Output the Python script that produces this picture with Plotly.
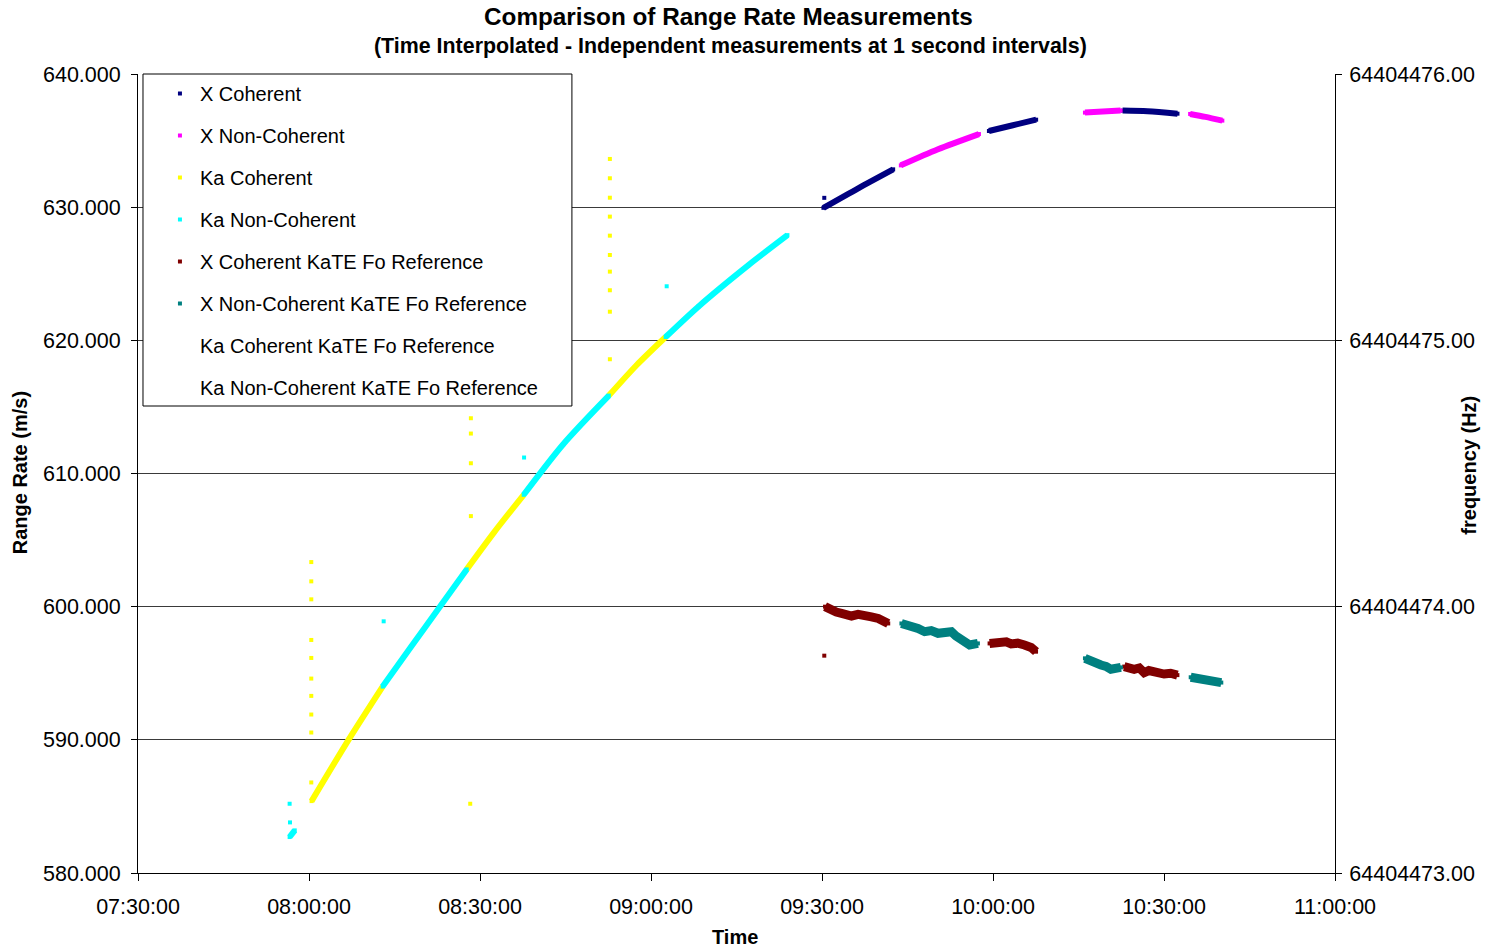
import plotly.graph_objects as go

DAY = "2000-01-01"

# ---------------- data ----------------
# X Coherent (left axis, m/s); None separates contiguous segments
XC_T = ["09:30:15", "09:36:21", "09:42:29", None,
        "09:59:17", "10:03:29", "10:07:34", None,
        "10:22:44", "10:27:07", "10:32:22"]
XC_V = [629.95, 631.42, 632.84, None,
        635.72, 636.15, 636.57, None,
        637.25, 637.20, 637.02]
XC_OUT_T = ["09:30:24"]
XC_OUT_V = [630.70]

# X Non-Coherent
XN_T = ["09:43:50", "09:50:21", "09:57:32", None,
        "10:16:08", "10:22:23", None,
        "10:34:35", "10:37:16", "10:40:14"]
XN_V = [633.14, 634.35, 635.49, None,
        637.10, 637.25, None,
        637.00, 636.78, 636.50]
XN_OUT_T = []
XN_OUT_V = []

# Ka Coherent
KC_T = ["08:00:27", "08:06:56", "08:12:55", None,
        "08:27:40", "08:32:30", "08:37:40", None,
        "08:52:36", "08:57:30", "09:02:34"]
KC_V = [585.40, 590.00, 594.00, None,
        602.80, 605.60, 608.40, None,
        615.85, 618.15, 620.25]
KC_OUT_T = ["08:00:24"] * 10 + ["08:28:24"] * 4 + ["08:28:17"] + ["08:52:47"] * 10
KC_OUT_V = [603.35, 601.90, 600.55, 597.50, 596.15, 594.60, 593.30, 591.90, 590.55, 586.80,
            614.15, 613.00, 610.77, 606.80, 585.20,
            633.62, 632.17, 630.71, 629.29, 627.86, 626.41, 625.16, 623.76, 622.15, 618.58]

# Ka Non-Coherent
KN_T = ["07:56:36", "07:57:30", None,
        "08:12:55", "08:18:00", "08:23:09", "08:27:40", None,
        "08:37:40", "08:44:36", "08:52:36", None,
        "09:02:34", "09:08:21", "09:17:06", "09:23:56"]
KN_V = [582.70, 583.20, None,
        594.00, 597.05, 600.10, 602.80, None,
        608.40, 612.20, 615.85, None,
        620.25, 622.55, 625.65, 627.90]
KN_OUT_T = ["07:56:36", "07:56:40", "08:13:06", "08:37:44", "09:02:45"]
KN_OUT_V = [585.20, 583.80, 598.90, 611.20, 624.06]

# X Coherent KaTE Fo Reference (right axis, Hz)
XCR_T = ["09:30:32", "09:31:41", "09:32:30", "09:33:26", "09:34:20", "09:35:11", "09:36:20",
         "09:37:32", "09:38:40", "09:39:52", "09:40:45", "09:41:37", None,
         "09:59:24", "10:00:30", "10:01:24", "10:02:20", "10:03:11", "10:04:20", "10:05:31",
         "10:06:41", "10:07:33", None,
         "10:23:01", "10:24:46", "10:25:40", "10:26:31", "10:27:20", "10:28:16", "10:29:10",
         "10:30:01", "10:31:10", "10:32:21"]
XCR_V = [64404474.000, 64404473.985, 64404473.980, 64404473.975, 64404473.972, 64404473.965,
         64404473.971, 64404473.969, 64404473.962, 64404473.956, 64404473.950, 64404473.937, None,
         64404473.862, 64404473.866, 64404473.862, 64404473.868, 64404473.860, 64404473.863,
         64404473.856, 64404473.847, 64404473.831, None,
         64404473.775, 64404473.765, 64404473.770, 64404473.752, 64404473.760, 64404473.756,
         64404473.745, 64404473.747, 64404473.750, 64404473.743]
XCR_OUT_T = ["09:30:24"]
XCR_OUT_V = [64404473.816]

# X Non-Coherent KaTE Fo Reference (right axis, Hz)
XNR_T = ["09:43:56", "09:44:50", "09:45:41", "09:46:50", "09:48:01", "09:49:10", "09:50:21",
         "09:51:30", "09:52:42", "09:53:30", "09:54:26", "09:55:10", "09:55:54", "09:57:21", None,
         "10:16:08", "10:17:11", "10:18:00", "10:18:56", "10:19:50", "10:20:41", "10:22:26", None,
         "10:34:41", "10:35:30", "10:36:26", "10:37:20", "10:38:11", "10:40:03"]
XNR_V = [64404473.937, 64404473.933, 64404473.931, 64404473.918, 64404473.906, 64404473.910,
         64404473.900, 64404473.904, 64404473.906, 64404473.890, 64404473.875, 64404473.866,
         64404473.856, 64404473.862, None,
         64404473.806, 64404473.793, 64404473.790, 64404473.781, 64404473.776, 64404473.765,
         64404473.772, None,
         64404473.735, 64404473.733, 64404473.731, 64404473.729, 64404473.725, 64404473.715]
XNR_OUT_T = []
XNR_OUT_V = []

SERIES = [
    ("X Coherent", XC_T, XC_V, XC_OUT_T, XC_OUT_V, "#000080", "y", 6, "spline"),
    ("X Non-Coherent", XN_T, XN_V, XN_OUT_T, XN_OUT_V, "#FF00FF", "y", 6, "spline"),
    ("Ka Coherent", KC_T, KC_V, KC_OUT_T, KC_OUT_V, "#FFFF00", "y", 6, "spline"),
    ("Ka Non-Coherent", KN_T, KN_V, KN_OUT_T, KN_OUT_V, "#00FFFF", "y", 6, "spline"),
    ("X Coherent KaTE Fo Reference", XCR_T, XCR_V, XCR_OUT_T, XCR_OUT_V, "#800000", "y2", 9, "linear"),
    ("X Non-Coherent KaTE Fo Reference", XNR_T, XNR_V, XNR_OUT_T, XNR_OUT_V, "#008080", "y2", 9, "linear"),
]
# series that hold no points in the picture (legend entries only)
EMPTY_SERIES = ["Ka Coherent KaTE Fo Reference", "Ka Non-Coherent KaTE Fo Reference"]


def tx(ts):
    return [None if t is None else f"{DAY} {t}" for t in ts]


FONT = "Liberation Sans, Arial, sans-serif"
fig = go.Figure()

for i, (name, t, v, ot, ov, col, ax, w, shape) in enumerate(SERIES):
    fig.add_trace(go.Scatter(
        x=tx(t), y=v, mode="lines", yaxis=ax, connectgaps=False,
        line=dict(color=col, width=w, shape=shape, smoothing=0.8 if shape == "spline" else None),
        showlegend=False, legendgroup=f"g{i}", hoverinfo="skip"))
    fig.add_trace(go.Scatter(
        x=tx(t) + tx(ot), y=v + ov, mode="markers", yaxis=ax, name=name,
        marker=dict(color=col, size=4, symbol="square"),
        legendgroup=f"g{i}"))

for j, name in enumerate(EMPTY_SERIES):
    fig.add_trace(go.Scatter(
        x=[None], y=[None], mode="markers", name=name,
        marker=dict(color="rgba(0,0,0,0)", size=4, symbol="square"),
        legendgroup=f"e{j}"))

L, R, T, B = 138, 149, 74, 76
W, H = 1487, 949
PW, PH = W - L - R, H - T - B


def px(x):
    return (x - L) / PW


def py(y):
    return (H - B - y) / PH


def ann(text, x, y, size, angle=0):
    return dict(text=text, x=px(x), y=py(y), xref="paper", yref="paper",
                xanchor="center", yanchor="middle", showarrow=False, textangle=angle,
                font=dict(size=size, family=FONT, color="black"))


TICKFONT = dict(family=FONT, size=21.5, color="black")

fig.update_layout(
    width=W, height=H,
    margin=dict(l=L, r=R, t=T, b=B),
    paper_bgcolor="white", plot_bgcolor="white",
    font=dict(family=FONT, size=20, color="black"),
    showlegend=True,
    legend=dict(x=px(160), y=1.0, xanchor="left", yanchor="top",
                bgcolor="rgba(0,0,0,0)", borderwidth=0,
                font=dict(family=FONT, size=20, color="black"),
                tracegroupgap=13, traceorder="grouped", itemsizing="trace"),
    xaxis=dict(type="date",
               range=[f"{DAY} 07:30:00", f"{DAY} 11:00:00"],
               dtick=30 * 60 * 1000, tick0=f"{DAY} 07:30:00",
               tickformat="%H:%M:%S", showgrid=False, zeroline=False,
               showline=True, linecolor="black", linewidth=1,
               ticks="outside", ticklen=7, tickcolor="black",
               ticklabelstandoff=7, tickfont=TICKFONT),
    yaxis=dict(range=[580, 640], dtick=10, tickformat=".3f",
               showgrid=True, gridcolor="#3a3a3a", gridwidth=1, zeroline=False,
               showline=True, linecolor="black", linewidth=1,
               ticks="outside", ticklen=6, tickcolor="black",
               ticklabelstandoff=6, tickfont=TICKFONT),
    yaxis2=dict(range=[64404473, 64404476], dtick=1, tickformat=".2f",
                overlaying="y", side="right", showgrid=False, zeroline=False,
                showline=True, linecolor="black", linewidth=1,
                ticks="outside", ticklen=6, tickcolor="black",
                ticklabelstandoff=3, tickfont=TICKFONT),
    shapes=[dict(type="rect", xref="paper", yref="paper",
                 x0=px(143), x1=px(573), y0=py(406), y1=py(74),
                 line=dict(color="black", width=1), fillcolor="white", layer="above")],
    annotations=[
        ann("<b>Comparison of Range Rate Measurements</b>", 730, 17, 24.3),
        ann("<b>(Time Interpolated - Independent measurements at 1 second intervals)</b>", 732, 46, 21.4),
        ann("<b>Range Rate (m/s)</b>", 20, 473, 20, -90),
        ann("<b>frequency (Hz)</b>", 1472, 465, 20, -90),
        ann("<b>Time</b>", 736, 937, 20),
    ],
)

fig.write_html("out.html", config={"displayModeBar": False},
               post_script="document.body.style.margin='0px';document.body.style.overflow='hidden';")
